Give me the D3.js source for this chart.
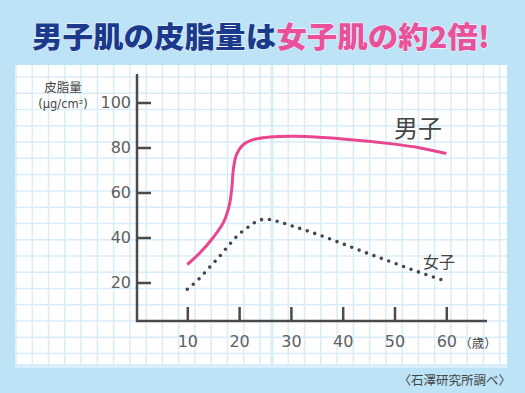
<!DOCTYPE html>
<html>
<head>
<meta charset="utf-8">
<script src="https://cdn.jsdelivr.net/npm/d3@7"></script>
<style>
  html, body { margin: 0; padding: 0; background: #bde3f7; }
  svg { display: block; }
</style>
</head>
<body>
<div id="chart"></div>
<script>
// data
const titleParts = ["男子肌の皮脂量は", "女子肌の約2倍!"];
const yLabelLines = ["皮脂量", "(μg/cm²)"];
const yTicks = [20, 40, 60, 80, 100];
const xTicks = [10, 20, 30, 40, 50, 60];
const xUnit = "（歳）";
const source = "〈石澤研究所調べ〉";

const maleAge = [10, 12.5, 15, 17, 18.1, 18.6, 18.9, 19.5, 20.8, 22.7, 26, 31, 40, 50, 55, 60];
const maleVal = [28, 33.3, 40, 46.8, 54.3, 62, 70.5, 76.8, 81.3, 83.5, 84.7, 85, 83.8, 81.5, 79.8, 77.3];
const femaleAge = [10, 12, 14, 16, 18, 20, 22, 24, 25.3, 27, 30, 35, 40, 45, 50, 55, 60];
const femaleVal = [17, 21, 26, 31, 36.5, 41.5, 45, 47.8, 48.1, 47.4, 45.3, 41.5, 37.2, 32.8, 28.6, 24.4, 20.5];

const W = 525, H = 393;
const svg = d3.select("#chart").append("svg")
  .attr("width", W).attr("height", H);

// background panel + graph-paper grid
svg.append("rect").attr("x", 0).attr("y", 0).attr("width", W).attr("height", H).attr("fill", "#bde3f7");
svg.append("rect").attr("x", 15).attr("y", 65).attr("width", 492).attr("height", 303).attr("fill", "#d9eefa");
svg.append("rect").attr("x", 15).attr("y", 65).attr("width", 492).attr("height", 299).attr("fill", "#ffffff");

const grid = svg.append("g").attr("stroke", "#d8edf9").attr("stroke-width", 1.5);
const step = 16.27;
for (let x = 16; x < 265; x += step) {
  grid.append("line").attr("x1", x).attr("x2", x).attr("y1", 65).attr("y2", 364);
}
for (let x = 272 + step; x < 507; x += step) {
  grid.append("line").attr("x1", x).attr("x2", x).attr("y1", 65).attr("y2", 364);
}
grid.append("line").attr("x1", 272).attr("x2", 272).attr("y1", 65).attr("y2", 364).attr("stroke-width", 3);
for (let y = 77; y < 364; y += step) {
  grid.append("line").attr("x1", 15).attr("x2", 507).attr("y1", y).attr("y2", y);
}

// title
const title = svg.append("text")
  .attr("x", 261).attr("y", 48)
  .attr("text-anchor", "middle")
  .attr("font-family", "'Noto Sans CJK JP', sans-serif")
  .attr("font-weight", 900)
  .attr("font-size", 29)
  .attr("stroke", "#ffffff").attr("stroke-width", 0.8).attr("paint-order", "stroke");
title.append("tspan").attr("fill", "#1b3a8c").text(titleParts[0]);
title.append("tspan").attr("fill", "#e9529a").text(titleParts[1]);
title.attr("textLength", 458).attr("lengthAdjust", "spacingAndGlyphs");

// scales
const x = d3.scaleLinear().domain([0, 60]).range([135.5, 446.3]);
const y = d3.scaleLinear().domain([0, 100]).range([327.5, 102.5]);
const axisX0 = 137, axisY0 = 321;
const axisColor = "#4a4a4a";

const yAxis = svg.append("g")
  .attr("transform", `translate(${axisX0},0)`)
  .call(d3.axisLeft(y).tickValues(yTicks).tickSize(-14).tickPadding(6));
const xAxis = svg.append("g")
  .attr("transform", `translate(0,${axisY0})`)
  .call(d3.axisBottom(x).tickValues(xTicks).tickSize(-14).tickPadding(15));

[yAxis, xAxis].forEach(g => {
  g.select(".domain").remove();
  g.selectAll(".tick line").attr("stroke", axisColor).attr("stroke-width", 2.5);
  g.selectAll(".tick text")
    .attr("fill", "#606060")
    .attr("font-family", "'DejaVu Sans', sans-serif")
    .attr("font-size", 16);
});

svg.append("line").attr("x1", axisX0).attr("x2", axisX0).attr("y1", 74).attr("y2", axisY0 + 1)
  .attr("stroke", axisColor).attr("stroke-width", 2.5);
svg.append("line").attr("x1", axisX0 - 1).attr("x2", 487).attr("y1", axisY0).attr("y2", axisY0)
  .attr("stroke", axisColor).attr("stroke-width", 2.5);

// axis labels
const lblFont = "'Noto Sans CJK JP', sans-serif";
svg.append("text").attr("x", 63).attr("y", 92).attr("text-anchor", "middle")
  .attr("font-family", lblFont).attr("font-size", 12.5).attr("fill", "#454545").text(yLabelLines[0]);
svg.append("text").attr("x", 63).attr("y", 108).attr("text-anchor", "middle")
  .attr("font-family", "'DejaVu Sans', sans-serif").attr("font-size", 11.5).attr("fill", "#454545").text(yLabelLines[1]);
svg.append("text").attr("x", 478).attr("y", 348).attr("text-anchor", "middle")
  .attr("font-family", lblFont).attr("font-size", 12.5).attr("fill", "#454545").text(xUnit);
svg.append("text").attr("x", 511).attr("y", 385).attr("text-anchor", "end")
  .attr("font-family", lblFont).attr("font-size", 12.5).attr("fill", "#454545").text(source);

// lines
const maleLine = d3.line().x(d => x(d[0])).y(d => y(d[1])).curve(d3.curveCatmullRom.alpha(0.5));
const femaleLine = d3.line().x(d => x(d[0])).y(d => y(d[1])).curve(d3.curveMonotoneX);

svg.append("path")
  .datum(maleAge.map((a, i) => [a, maleVal[i]]))
  .attr("d", maleLine)
  .attr("fill", "none")
  .attr("stroke", "#e8478f")
  .attr("stroke-width", 3);

svg.append("path")
  .datum(femaleAge.map((a, i) => [a, femaleVal[i]]))
  .attr("d", femaleLine)
  .attr("fill", "none")
  .attr("stroke", "#474747")
  .attr("stroke-width", 3.6)
  .attr("stroke-linecap", "round")
  .attr("stroke-dasharray", "0 7.9");

// series labels
svg.append("text").attr("x", 418).attr("y", 137).attr("text-anchor", "middle")
  .attr("font-family", lblFont).attr("font-size", 24).attr("fill", "#454545").text("男子");
svg.append("text").attr("x", 439).attr("y", 268).attr("text-anchor", "middle")
  .attr("font-family", lblFont).attr("font-size", 16).attr("fill", "#454545").text("女子");
</script>
</body>
</html>
